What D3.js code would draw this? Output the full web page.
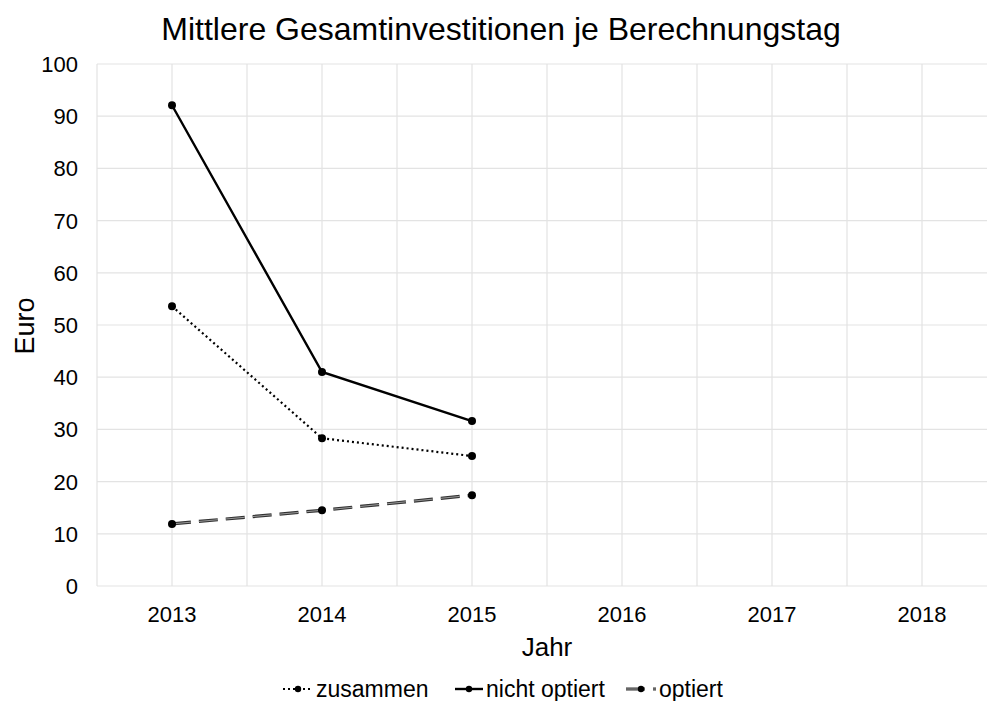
<!DOCTYPE html>
<html>
<head>
<meta charset="utf-8">
<script src="https://cdn.jsdelivr.net/npm/d3@7"></script>
<style>
  body { margin: 0; background: #fff; }
  svg { font-family: "Liberation Sans", Arial, sans-serif; }
</style>
</head>
<body>
<svg id="chart" width="987" height="701"></svg>
<script>
// chart data
const years = [2013, 2014, 2015];
const yearTicks = [2013, 2014, 2015, 2016, 2017, 2018];
const zusammen = [53.6, 28.3, 24.9];
const nichtOptiert = [92.1, 41.0, 31.6];
const optiert = [11.9, 14.5, 17.4];
const yTicks = [0, 10, 20, 30, 40, 50, 60, 70, 80, 90, 100];

const series = [
    { name: 'zusammen', values: zusammen, style: 'dotted' },
    { name: 'nicht optiert', values: nichtOptiert, style: 'solid' },
    { name: 'optiert', values: optiert, style: 'dashed' }
];

const svg = d3.select('#chart');

const x = d3.scaleLinear().domain([2012.5, 2018.5]).range([97, 997]);
const y = d3.scaleLinear().domain([0, 100]).range([586, 64]);

// grid: horizontal at every tick, vertical at every half year
const grid = svg.append('g').attr('class', 'grid');
grid.selectAll('line.h')
    .data(yTicks)
    .enter().append('line')
    .attr('class', 'h')
    .attr('x1', x(2012.5)).attr('x2', 987)
    .attr('y1', d => y(d)).attr('y2', d => y(d))
    .attr('stroke', '#e3e3e3').attr('stroke-width', 1.2);

grid.selectAll('line.v')
    .data(d3.range(2012.5, 2018.6, 0.5))
    .enter().append('line')
    .attr('class', 'v')
    .attr('x1', d => x(d)).attr('x2', d => x(d))
    .attr('y1', y(100)).attr('y2', y(0))
    .attr('stroke', '#e3e3e3').attr('stroke-width', 1.2);

// tick labels
svg.append('g')
    .selectAll('text')
    .data(yTicks)
    .enter().append('text')
    .attr('x', 78)
    .attr('y', d => y(d))
    .attr('dy', '0.36em')
    .attr('text-anchor', 'end')
    .attr('font-size', 22)
    .text(d => d);

svg.append('g')
    .selectAll('text')
    .data(yearTicks)
    .enter().append('text')
    .attr('x', d => x(d))
    .attr('y', 622)
    .attr('text-anchor', 'middle')
    .attr('font-size', 22)
    .text(d => d);

// titles
svg.append('text')
    .attr('x', 547).attr('y', 656)
    .attr('text-anchor', 'middle')
    .attr('font-size', 26)
    .text('Jahr');

svg.append('text')
    .attr('transform', 'translate(34,326) rotate(-90)')
    .attr('text-anchor', 'middle')
    .attr('font-size', 27)
    .text('Euro');

svg.append('text')
    .attr('x', 501).attr('y', 40)
    .attr('text-anchor', 'middle')
    .attr('font-size', 32)
    .text('Mittlere Gesamtinvestitionen je Berechnungstag');

function drawStyled(g, pathD, style) {
    if (style === 'dashed') {
        g.append('path').attr('d', pathD).attr('fill', 'none')
            .attr('stroke', '#333').attr('stroke-width', 3.2)
            .attr('stroke-dasharray', '19,8');
        g.append('path').attr('d', pathD).attr('fill', 'none')
            .attr('stroke', '#9a9a9a').attr('stroke-width', 1)
            .attr('stroke-dasharray', '19,8');
    } else if (style === 'dotted') {
        g.append('path').attr('d', pathD).attr('fill', 'none')
            .attr('stroke', '#000').attr('stroke-width', 2.2)
            .attr('stroke-dasharray', '2,3');
    } else {
        g.append('path').attr('d', pathD).attr('fill', 'none')
            .attr('stroke', '#000').attr('stroke-width', 2.4);
    }
}

const line = d3.line()
    .x(d => x(d.year))
    .y(d => y(d.value));

series.forEach(s => {
    const pts = years.map((yr, i) => ({ year: yr, value: s.values[i] }));
    const g = svg.append('g').attr('class', 'series');
    drawStyled(g, line(pts), s.style);
    g.selectAll('circle')
        .data(pts)
        .enter().append('circle')
        .attr('cx', d => x(d.year))
        .attr('cy', d => y(d.value))
        .attr('r', 4)
        .attr('fill', '#000');
});

// legend
const legendItems = [
    { s: series[0], x: 283, w: 30 },
    { s: series[1], x: 455, w: 28 },
    { s: series[2], x: 626, w: 30 }
];
const legend = svg.append('g').attr('class', 'legend');
legendItems.forEach(item => {
    const ly = 689;
    const g = legend.append('g');
    drawStyled(g, `M${item.x},${ly}L${item.x + item.w},${ly}`, item.s.style);
    g.append('circle').attr('cx', item.x + item.w / 2).attr('cy', ly).attr('r', 3.2).attr('fill', '#000');
    g.append('text')
        .attr('x', item.x + item.w + 3)
        .attr('y', ly)
        .attr('dy', '0.36em')
        .attr('font-size', 23)
        .text(item.s.name);
});
</script>
</body>
</html>
